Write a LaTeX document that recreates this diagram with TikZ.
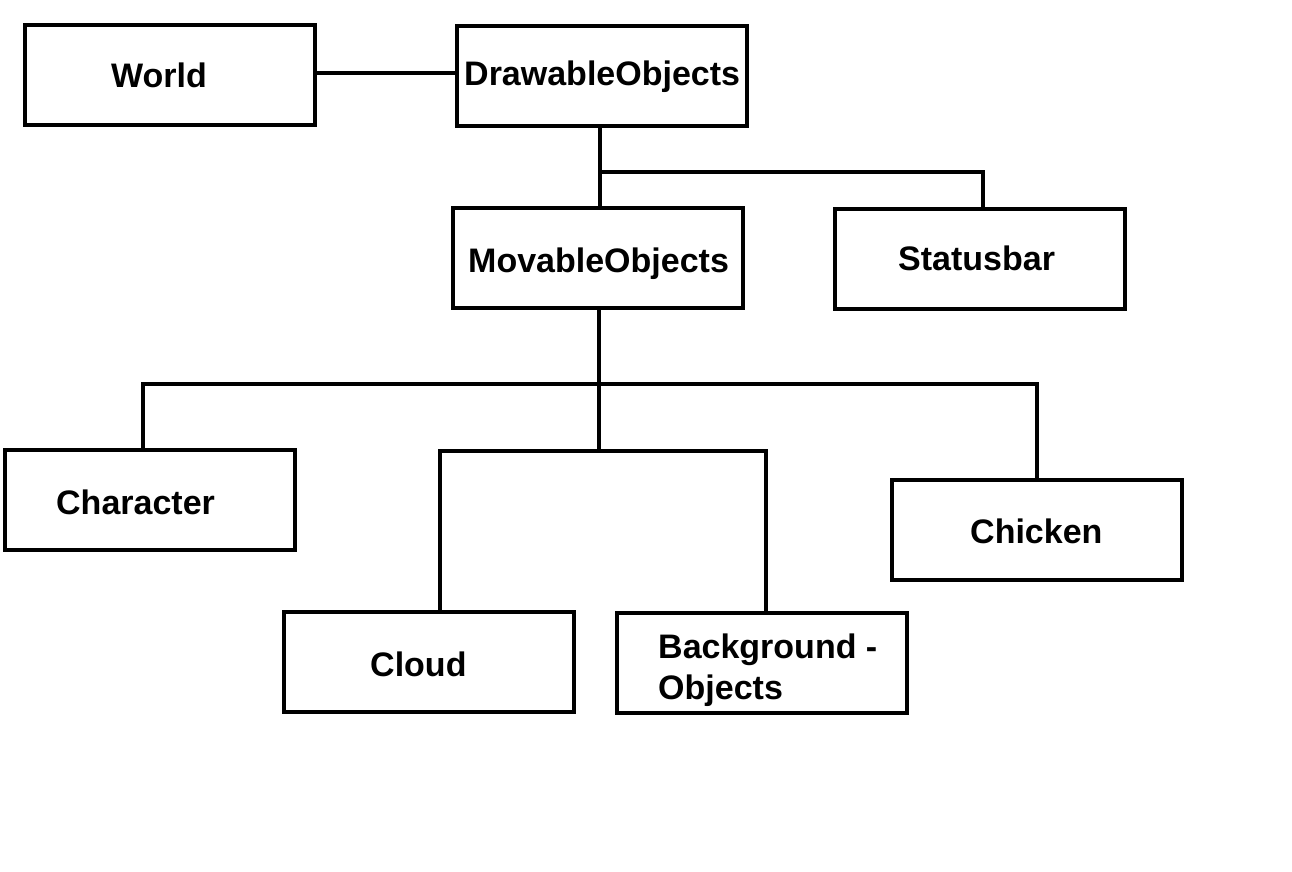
\documentclass[tikz,border=0pt]{standalone}
\usepackage{fontspec}
\setmainfont{Liberation Sans}
\usetikzlibrary{calc}
\tikzset{%
	% Style of the class box
	ClassBox/.style={rectangle,draw=black,line width=4pt,inner sep=0,minimum width=290pt,minimum height=100pt},
	% Style of the class name
	ClassName/.style={font=\fontsize{34}{41}\selectfont\bfseries,black,inner sep=0,anchor=base west,align=left},
	% Style of the connection
	Connection/.style={line width=4pt,line join=miter},
}
\begin{document}
\begin{tikzpicture}[x=1pt,y=-1pt]
\useasboundingbox (0,0) rectangle (1292,872);

%~~~~~~~~~~~~~~~~~~~~~~~~~~~~~~~~~~~~~~~~~~~~~~~~~~
% Set Boxes
%~~~~~~~~~~~~~~~~~~~~~~~~~~~~~~~~~~~~~~~~~~~~~~~~~~
\node[ClassBox] (World) at (170, 75) {};
\node[ClassName] at ($ (World) + (-59, 13) $) {World};

\node[ClassBox] (Drawable) at (602, 76) {};
\node[ClassName] at ($ (Drawable) + (-138, 10) $) {DrawableObjects};

\node[ClassBox] (Movable) at (598, 257.5) {};
\node[ClassName] at ($ (Movable) + (-130, 14.5) $) {MovableObjects};

\node[ClassBox] (Statusbar) at (980, 258.5) {};
\node[ClassName] at ($ (Statusbar) + (-82, 11.5) $) {Statusbar};

\node[ClassBox] (Character) at (150, 500) {};
\node[ClassName] at ($ (Character) + (-94, 14) $) {Character};

\node[ClassBox] (Chicken) at (1037, 530) {};
\node[ClassName] at ($ (Chicken) + (-67, 13) $) {Chicken};

\node[ClassBox] (Cloud) at (429, 662) {};
\node[ClassName] at ($ (Cloud) + (-59, 14) $) {Cloud};

\node[ClassBox] (Background) at (762, 663) {};
\node[ClassName] at ($ (Background) + (-104, 36) $) {Background -\\Objects};

%~~~~~~~~~~~~~~~~~~~~~~~~~~~~~~~~~~~~~~~~~~~~~~~~~~
% Set Connections
%~~~~~~~~~~~~~~~~~~~~~~~~~~~~~~~~~~~~~~~~~~~~~~~~~~
\coordinate (J1) at (600, 172);
\coordinate (J2) at (599, 384);
\coordinate (J3) at (599, 451);

%World to DrawableObjects
\draw [Connection] ($ (World.east) + (0, -2) $) -- ($ (World.east -| Drawable.west) + (0, -2) $);

%DrawableObjects to MovableObjects and Statusbar
\draw [Connection] (J1 |- Drawable.south) -- (J1 |- Movable.north);
\draw [Connection] (J1) -| ($ (Statusbar.north) + (3, 0) $);

%MovableObjects to its children
\draw [Connection] (J2 |- Movable.south) -- (J3);
\draw [Connection] ($ (Character.north) + (-7, 0) $) |- (J2) -| (Chicken.north);
\draw [Connection] ($ (Cloud.north) + (11, 0) $) |- (J3) -| ($ (Background.north) + (4, 0) $);

\end{tikzpicture}
\end{document}
